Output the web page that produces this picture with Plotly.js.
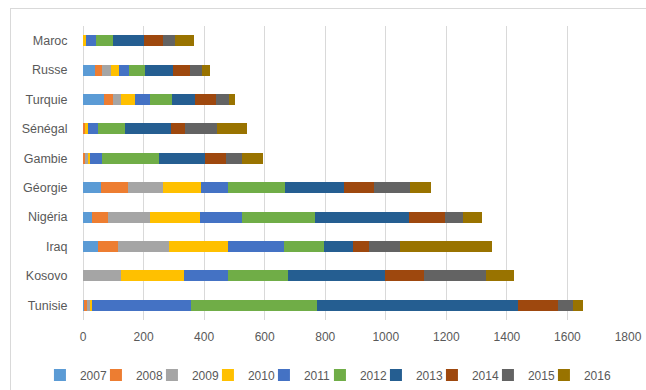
<!DOCTYPE html>
<html>
<head>
<meta charset="utf-8">
<script src="https://cdn.plot.ly/plotly-3.0.1.min.js"></script>
<style>
  html, body { margin: 0; padding: 0; background: #ffffff; }
  #chart { width: 646px; height: 390px; position: absolute; left: 0; top: 0; }
  #frame { position: absolute; left: 10px; top: 8px; width: 660px; height: 400px;
           border-left: 1px solid #d9d9d9; border-top: 1px solid #d9d9d9; pointer-events: none; }
</style>
</head>
<body>
<div id="chart"></div>
<div id="frame"></div>
<script>
// Categories (top to bottom)
const countries = ["Maroc", "Russe", "Turquie", "Sénégal", "Gambie", "Géorgie", "Nigéria", "Iraq", "Kosovo", "Tunisie"];
const years = ["2007", "2008", "2009", "2010", "2011", "2012", "2013", "2014", "2015", "2016"];

// Values per year, in the order of countries
const v2007 = [0, 40, 69, 0, 0, 58, 31, 48, 0, 3];
const v2008 = [0, 24, 30, 8, 8, 89, 51, 67, 0, 10];
const v2009 = [0, 27, 26, 0, 10, 117, 138, 169, 125, 10];
const v2010 = [9, 29, 46, 9, 5, 126, 166, 196, 209, 8];
const v2011 = [34, 33, 50, 31, 40, 89, 138, 183, 146, 325];
const v2012 = [56, 51, 72, 92, 189, 189, 243, 133, 196, 417];
const v2013 = [101, 92, 77, 151, 152, 193, 311, 97, 320, 664];
const v2014 = [63, 57, 69, 47, 69, 101, 116, 50, 130, 132];
const v2015 = [40, 40, 43, 104, 52, 117, 62, 103, 204, 49];
const v2016 = [63, 26, 21, 101, 68, 70, 61, 306, 94, 34];

const xTicks = [0, 200, 400, 600, 800, 1000, 1200, 1400, 1600, 1800];

const series = [v2007, v2008, v2009, v2010, v2011, v2012, v2013, v2014, v2015, v2016];
const colors = ["#5B9BD5", "#ED7D31", "#A5A5A5", "#FFC000", "#4472C4",
                "#70AD47", "#255E91", "#9E480E", "#636363", "#997300"];

const traces = series.map((vals, i) => ({
  type: "bar",
  orientation: "h",
  name: years[i],
  y: countries,
  x: vals,
  marker: { color: colors[i], line: { width: 0 } },
  hoverinfo: "name+x+y"
}));

// zero-valued, transparent legend spacer so the last legend label is not clipped
traces.push({
  type: "bar",
  orientation: "h",
  name: " ",
  y: [countries[0]],
  x: [0],
  marker: { color: "rgba(0,0,0,0)", line: { width: 0 } },
  showlegend: true,
  hoverinfo: "skip"
});

const font = { family: "Liberation Sans, Arial, sans-serif", color: "#595959" };

const layout = {
  width: 646,
  height: 390,
  barmode: "stack",
  bargap: 0.62,
  margin: { l: 83, r: 18, t: 26, b: 70, pad: 0, autoexpand: false },
  paper_bgcolor: "rgba(0,0,0,0)",
  plot_bgcolor: "#ffffff",
  font: font,
  showlegend: true,
  legend: {
    orientation: "h",
    x: -0.079, xanchor: "left",
    y: -0.187, yanchor: "middle",
    font: { family: font.family, color: "#595959", size: 12 },
    itemwidth: 30,
    entrywidth: 11,
    entrywidthmode: "pixels",
    traceorder: "normal",
    bgcolor: "rgba(0,0,0,0)"
  },
  xaxis: {
    range: [0, 1800],
    tickvals: xTicks,
    ticktext: xTicks.map(String),
    showgrid: true,
    gridcolor: "#d9d9d9",
    gridwidth: 1,
    zeroline: true,
    zerolinecolor: "#d9d9d9",
    zerolinewidth: 1,
    showline: false,
    ticks: "outside",
    ticklen: 6,
    tickcolor: "rgba(0,0,0,0)",
    tickfont: { family: font.family, color: "#595959", size: 12 },
    fixedrange: true
  },
  yaxis: {
    type: "category",
    categoryorder: "array",
    categoryarray: countries,
    autorange: "reversed",
    showgrid: false,
    zeroline: false,
    showline: false,
    ticks: "outside",
    ticklen: 12,
    tickcolor: "rgba(0,0,0,0)",
    tickfont: { family: font.family, color: "#595959", size: 12.5 },
    fixedrange: true
  }
};

Plotly.newPlot("chart", traces, layout, { displayModeBar: false, staticPlot: true });
</script>
</body>
</html>
